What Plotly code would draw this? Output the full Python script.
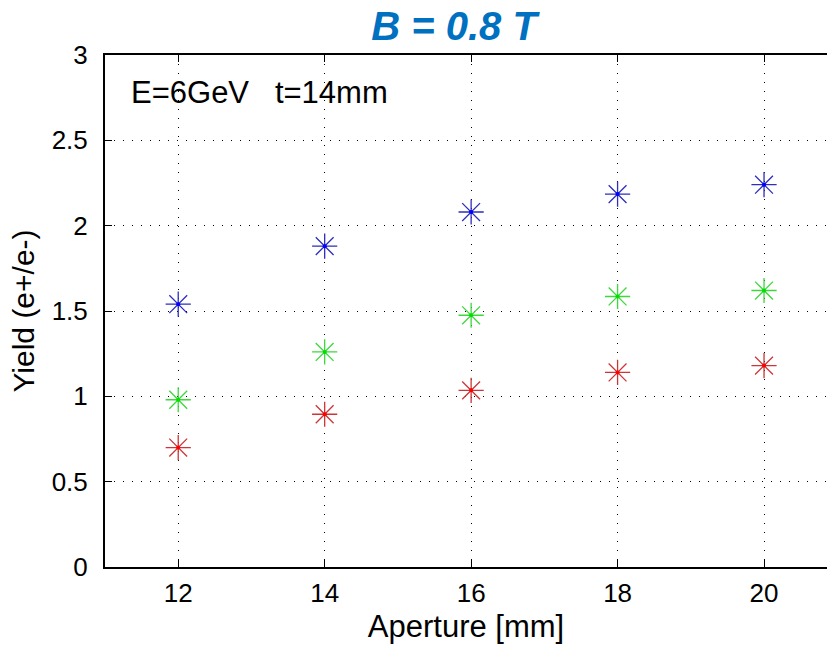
import plotly.graph_objects as go

aperture = [12, 14, 16, 18, 20]
yield_blue = [1.54, 1.88, 2.08, 2.185, 2.24]
yield_green = [0.98, 1.26, 1.475, 1.585, 1.62]
yield_red = [0.70, 0.895, 1.035, 1.14, 1.18]

x_ticks = [12, 14, 16, 18, 20]
y_ticks = [0, 0.5, 1, 1.5, 2, 2.5, 3]
y_tick_labels = ["0", "0.5", "1", "1.5", "2", "2.5", "3"]

series = [
    (yield_blue, "#2e2ebf", "#0000ff"),
    (yield_green, "#3cd83c", "#00e000"),
    (yield_red, "#cc3636", "#ff0000"),
]

fig = go.Figure()
for ys, lc, dc in series:
    fig.add_trace(go.Scatter(
        x=aperture, y=ys, mode="markers",
        marker=dict(symbol="asterisk-open", size=21,
                    line=dict(color=lc, width=1.3), color=lc),
        showlegend=False, hoverinfo="skip"))
    fig.add_trace(go.Scatter(
        x=aperture, y=ys, mode="markers",
        marker=dict(symbol="circle", size=4, color=dc, line=dict(width=0)),
        showlegend=False, hoverinfo="skip"))

font_family = "Liberation Sans, Arial, sans-serif"

fig.update_layout(
    width=827, height=647,
    margin=dict(l=105, r=0, t=55, b=80),
    paper_bgcolor="white", plot_bgcolor="white",
    font=dict(family=font_family, color="black", size=26),
    title=dict(text="<b><i>B = 0.8 T</i></b>", x=0.549, xanchor="center",
               y=0.96, yanchor="middle",
               font=dict(family=font_family, size=40, color="#0070C0")),
    xaxis=dict(
        range=[11, 20.86], tickvals=x_ticks, ticktext=[str(v) for v in x_ticks],
        showline=True, linecolor="black", linewidth=2, mirror="ticks",
        ticks="inside", ticklen=7, tickcolor="black", tickwidth=1,
        showgrid=True, gridcolor="black", gridwidth=1, griddash="1px,8px",
        zeroline=False, ticklabelstandoff=2,
        title=dict(text="Aperture [mm]", font=dict(size=31), standoff=8),
        tickfont=dict(size=26),
    ),
    yaxis=dict(
        range=[0, 3], tickvals=y_ticks, ticktext=y_tick_labels,
        showline=True, linecolor="black", linewidth=2, mirror=False,
        ticks="inside", ticklen=7, tickcolor="black", tickwidth=1,
        showgrid=True, gridcolor="black", gridwidth=1, griddash="1px,8px",
        zeroline=False, ticklabelstandoff=10,
        title=dict(text="Yield (e+/e-)", font=dict(size=30), standoff=8),
        tickfont=dict(size=26),
    ),
    annotations=[dict(
        text="E=6GeV\u00a0\u00a0\u00a0t=14mm", xref="paper", yref="paper",
        x=0.033, y=0.965, xanchor="left", yanchor="top", showarrow=False,
        font=dict(size=31, family=font_family, color="black"))],
)

fig.write_html("out.html")
